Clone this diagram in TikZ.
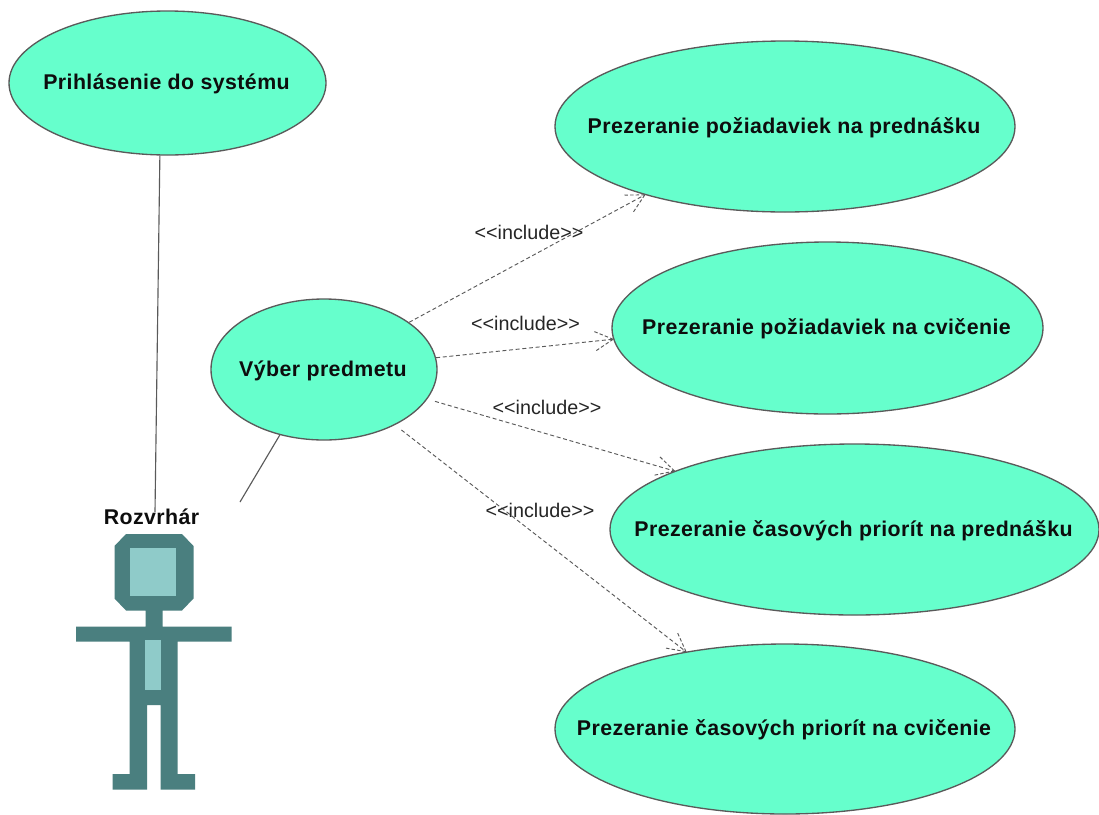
\documentclass[tikz,border=0pt]{standalone}
\usepackage{fontspec}
\setmainfont{Liberation Sans}
\newfontfamily\ucfont[LetterSpace=2]{Liberation Sans Bold}
\usetikzlibrary{shapes.geometric,arrows.meta}
\definecolor{ucfill}{HTML}{66FFCC}
\definecolor{ucline}{HTML}{5A5A5A}
\definecolor{actdark}{HTML}{4A7F7F}
\definecolor{actlight}{HTML}{8FCBC9}
\makeatletter
\pgfdeclarearrow{
  name=DashedVee,
  setup code={
    \pgfarrowssettipend{0pt}
    \pgfarrowssetlineend{0pt}
    \pgfarrowssetbackend{-14.5pt}
    \pgfarrowssetvisualbackend{-14.5pt}
    \pgfarrowshullpoint{0pt}{0pt}
    \pgfarrowsupperhullpoint{-14.5pt}{7.7pt}
  },
  drawing code={
    \pgfsetdash{{2.6pt}{1.6pt}}{0pt}
    \pgfsetlinewidth{0.7pt}
    \pgfpathmoveto{\pgfqpoint{0pt}{0pt}}
    \pgfpathlineto{\pgfqpoint{-14.5pt}{7.7pt}}
    \pgfusepathqstroke
    \pgfpathmoveto{\pgfqpoint{0pt}{0pt}}
    \pgfpathlineto{\pgfqpoint{-14.5pt}{-7.7pt}}
    \pgfusepathqstroke
  }
}
\makeatother
\tikzset{
  x=0.75pt,y=-0.75pt,
  usecase/.style={ellipse,draw=ucline,fill=ucfill,line width=1pt,inner sep=0pt,
    font=\ucfont\fontsize{16}{18}\selectfont,text=black!95},
  assoc/.style={draw=ucline,line width=0.85pt},
  incl/.style={draw=ucline,line width=0.7pt,dash pattern=on 3pt off 2pt,-{DashedVee}},
  incllabel/.style={inner sep=0pt,font=\fontsize{14.8}{16}\selectfont,text=black!85},
  actorlabel/.style={inner sep=0pt,font=\ucfont\fontsize{16}{18}\selectfont,text=black!95},
  actorbody/.style={fill=actdark,draw=none},
  actorpanel/.style={fill=actlight,draw=none},
}
\newcommand{\uc}[6]{\node[usecase,minimum width=#4*0.75pt,minimum height=#5*0.75pt] (#1) at (#2,#3) {\makebox[0pt]{\smash{\hspace{-1.5pt}\raisebox{-0.31em}{#6}}}};}
\begin{document}
\begin{tikzpicture}
\useasboundingbox (0,0) rectangle (1099,814);
\fill[white] (0,0) rectangle (1099,814);
% use cases
\uc{login}{167.5}{83}{317}{144}{Prihlásenie do systému}
\uc{vyber}{324}{369.5}{226}{141}{Výber predmetu}
\uc{pp}{785}{126.5}{460}{171}{Prezeranie požiadaviek na prednášku}
\uc{pc}{827.5}{328}{431}{172}{Prezeranie požiadaviek na cvičenie}
\uc{cp}{854.5}{529.5}{489}{171}{Prezeranie časových priorít na prednášku}
\uc{cc}{785}{729}{460}{170}{Prezeranie časových priorít na cvičenie}
% actor
\path[actorbody] (126,534) -- (182,534) -- (193.5,546) -- (193.5,598.5) -- (182,610.5) -- (162.5,610.5)
  -- (162.5,626.5) -- (231.5,626.5) -- (231.5,641.5) -- (177.5,641.5) -- (177.5,774) -- (195,774) -- (195,789.5)
  -- (160.5,789.5) -- (160.5,705) -- (147,705) -- (147,789.5) -- (112.5,789.5) -- (112.5,774) -- (129.5,774)
  -- (129.5,641.5) -- (76,641.5) -- (76,626.5) -- (145.5,626.5) -- (145.5,610.5) -- (126,610.5) -- (114.5,598.5)
  -- (114.5,546) -- cycle;
\path[actorpanel] (129.5,547.5) rectangle (176,595.5);
\path[actorpanel] (145,639.5) rectangle (160.5,689.5);
\node[actorlabel] (actor) at (151.5,517) {Rozvrhár};
% connectors
\coordinate (actorA) at (155,512);
\coordinate (actorB) at (240,502);
\draw[assoc] (login.264.8) -- (actorA);
\draw[assoc] (vyber.236.3) -- (actorB);
\draw[incl] (vyber.29.2) -- (pp.206.7);
\draw[incl] (vyber.6.75) -- (pc.183.9);
\draw[incl,shorten <=6pt] (vyber.344.6) -- (cp.162.5);
\draw[incl,shorten <=6pt] (vyber.322.1) -- (cc.142.6);
% labels
\node[incllabel] (l1) at (529,232) {<{}<include>{}>};
\node[incllabel] (l2) at (525.5,323) {<{}<include>{}>};
\node[incllabel] (l3) at (547,407) {<{}<include>{}>};
\node[incllabel] (l4) at (540,510.5) {<{}<include>{}>};
\end{tikzpicture}
\end{document}
